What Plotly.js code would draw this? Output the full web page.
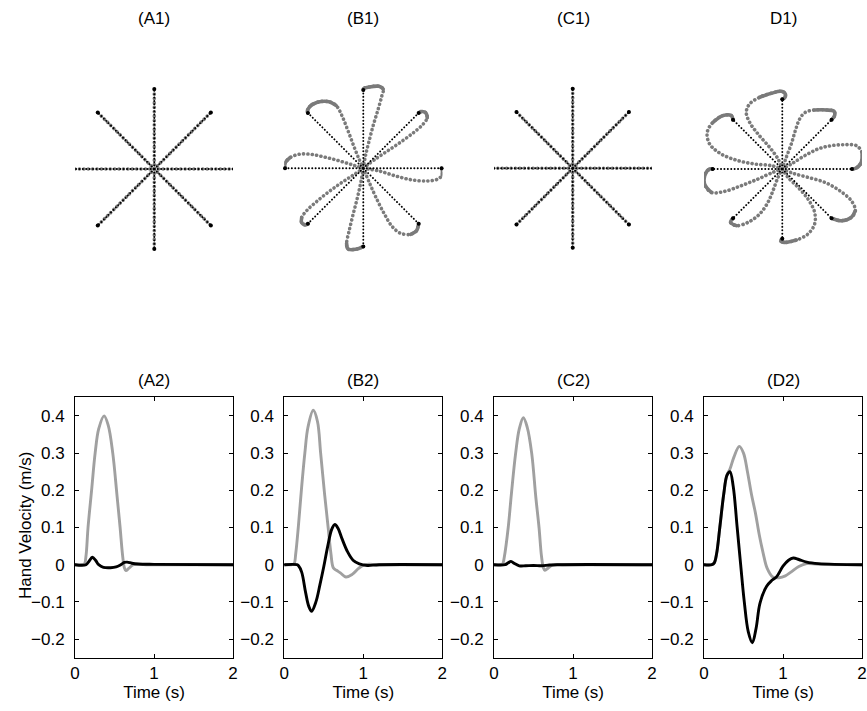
<!DOCTYPE html>
<html>
<head>
<meta charset="utf-8">
<script src="https://cdn.plot.ly/plotly-3.0.1.min.js"></script>
<style>
  html, body { margin: 0; padding: 0; background: #fff; }
  #chart { width: 867px; height: 711px; }
  /* round caps turn the zero-length dashes into dots */
  .js-line { stroke-linecap: round; stroke-linejoin: round; }
</style>
</head>
<body>
<div id="chart"></div>
<script>
// ---------- Reach targets (cm): N, NE, E, SE, S, SW, W, NW ----------
const targetX = [0, 7.07, 10, 7.07, 0, -7.07, -10, -7.07];
const targetY = [10, 7.07, 0, -7.07, -10, -7.07, 0, 7.07];

// ---------- Hand paths (cm), one list per target ----------
// (A1) null field: straight reaches
const pathAX = [[0, 0], [0, 7.07], [0, 10], [0, 7.07], [0, 0], [0, -7.07], [0, -10], [0, -7.07]];
const pathAY = [[0, 10], [0, 7.07], [0, 0], [0, -7.07], [0, -10], [0, -7.07], [0, 0], [0, 7.07]];

// (B1) curl field, first exposure
const pathBX = [
  [0, 0.30, 0.72, 1.28, 1.87, 2.34, 2.55, 2.00, 0.72, 0.05, 0],
  [0, 1.57, 3.28, 4.98, 6.47, 7.62, 8.17, 7.96, 7.32, 7.07],
  [0, 2.00, 4.13, 6.26, 8.17, 9.45, 10.09, 10.09, 10],
  [0, 0.72, 1.57, 2.64, 3.70, 4.77, 6.04, 6.81, 7.02, 7.07],
  [0, -0.30, -0.77, -1.32, -1.83, -2.13, -1.96, -0.98, 0],
  [0, -1.40, -2.89, -4.38, -5.87, -7.15, -7.87, -7.87, -7.36, -7.07],
  [0, -1.62, -3.32, -5.02, -6.72, -8.21, -9.36, -10, -10],
  [0, -0.55, -1.19, -1.91, -2.68, -3.45, -4.38, -5.87, -6.85, -7.15, -7.07]
];
const pathBY = [
  [0, 1.70, 3.40, 5.53, 7.45, 9.15, 10.13, 10.47, 10.38, 10.2, 10],
  [0, 1.19, 2.34, 3.49, 4.60, 5.62, 6.47, 7.11, 7.23, 7.07],
  [0, -0.34, -0.98, -1.49, -1.62, -1.40, -0.85, -0.21, 0],
  [0, -1.70, -3.62, -5.74, -7.45, -8.30, -8.43, -7.96, -7.32, -7.07],
  [0, -1.70, -3.83, -5.96, -8.09, -9.57, -10.30, -10.34, -10],
  [0, -0.94, -1.91, -2.98, -4.17, -5.32, -6.30, -6.94, -7.23, -7.07],
  [0, 0.51, 1.02, 1.45, 1.79, 1.79, 1.36, 0.64, 0],
  [0, 1.19, 2.77, 4.68, 6.60, 8.00, 8.51, 8.43, 7.87, 7.23, 7.07]
];
const hookB = [6, 6, 6, 6, 5, 6, 6, 5];

// (C1) null field again: straight reaches
const pathCX = pathAX;
const pathCY = pathAY;

// (D1) curl field, after-effect
const pathDX = [
  [0, -0.62, -1.82, -3.49, -4.69, -5.17, -4.69, -3.25, -1.58, -0.14, 0.43, 0.33, 0],
  [0, 0.57, 1.29, 1.87, 2.49, 3.30, 4.64, 6.32, 7.42, 7.51, 7.07],
  [0, 1.29, 3.21, 5.12, 7.03, 8.95, 10.62, 11.44, 11.34, 10.62, 10],
  [0, 1.53, 3.68, 6.08, 8.23, 9.90, 10.48, 9.90, 8.47, 7.07],
  [0, 0.81, 2.25, 3.68, 4.64, 4.64, 3.68, 2.01, 0.33, -0.24, 0],
  [0, -0.62, -1.34, -2.06, -3.25, -4.93, -6.60, -7.42, -7.07],
  [0, -1.34, -3.49, -5.89, -8.28, -10.19, -11.15, -11.05, -10.43, -10],
  [0, -1.58, -3.97, -6.36, -8.76, -10.43, -10.77, -9.95, -8.52, -7.32, -7.07]
];
const pathDY = [
  [0, 1.44, 3.11, 5.02, 6.70, 8.13, 9.33, 10.29, 10.86, 11.15, 10.77, 10.19, 10],
  [0, 1.67, 3.59, 5.50, 7.18, 8.13, 8.47, 8.47, 8.28, 7.66, 7.07],
  [0, 0.72, 1.91, 2.87, 3.35, 3.49, 3.35, 2.39, 0.96, 0.14, 0],
  [0, -0.62, -1.20, -1.91, -3.11, -4.55, -5.98, -6.94, -7.42, -7.07],
  [0, -1.20, -2.63, -4.31, -6.22, -7.89, -9.33, -10.19, -10.53, -10.29, -10],
  [0, -1.20, -3.11, -4.78, -6.46, -7.66, -8.13, -7.66, -7.07],
  [0, -0.48, -1.44, -2.39, -3.21, -3.35, -2.15, -0.72, 0, 0],
  [0, 0.48, 0.72, 1.20, 2.15, 3.59, 5.26, 6.70, 7.66, 7.66, 7.07]
];
const hookD = [7, 6, 7, 6, 7, 6, 5, 7];

// ---------- Hand velocity (m/s) against time (s) ----------
const tGrayA = [0, 0.1, 0.12, 0.14, 0.165, 0.21, 0.255, 0.3, 0.368, 0.42, 0.478, 0.53, 0.571, 0.6, 0.625, 0.645, 0.68, 0.74, 0.9, 2];
const vGrayA = [0, 0, 0.002, 0.025, 0.10, 0.20, 0.30, 0.365, 0.40, 0.375, 0.30, 0.19, 0.10, 0.03, -0.008, -0.016, -0.01, 0, 0, 0];
const tBlackA = [0, 0.14, 0.18, 0.22, 0.26, 0.3, 0.36, 0.45, 0.52, 0.58, 0.625, 0.66, 0.72, 0.8, 1.0, 2];
const vBlackA = [0, 0, 0.01, 0.02, 0.012, 0, -0.007, -0.008, -0.006, 0, 0.006, 0.007, 0.004, 0.002, 0.001, 0];

const tGrayB = [0, 0.1, 0.125, 0.145, 0.177, 0.22, 0.26, 0.3, 0.367, 0.42, 0.46, 0.51, 0.555, 0.59, 0.62, 0.66, 0.71, 0.78, 0.86, 0.94, 1.02, 1.2, 2];
const vGrayB = [0, 0, 0.003, 0.03, 0.1, 0.21, 0.3, 0.37, 0.415, 0.385, 0.3, 0.19, 0.1, 0.03, -0.008, -0.015, -0.022, -0.033, -0.026, -0.01, 0, 0, 0];
const tBlackB = [0, 0.16, 0.18, 0.22, 0.27, 0.31, 0.346, 0.4, 0.45, 0.5, 0.55, 0.6, 0.64, 0.68, 0.73, 0.8, 0.87, 0.95, 1.05, 1.2, 2];
const vBlackB = [0, 0, -0.003, -0.02, -0.075, -0.112, -0.125, -0.1, -0.055, -0.005, 0.05, 0.095, 0.108, 0.098, 0.07, 0.035, 0.012, 0.002, -0.002, 0, 0];

const tGrayC = [0, 0.09, 0.11, 0.13, 0.18, 0.22, 0.274, 0.32, 0.371, 0.42, 0.477, 0.53, 0.57, 0.6, 0.625, 0.645, 0.69, 0.75, 0.9, 2];
const vGrayC = [0, 0, 0.002, 0.02, 0.1, 0.19, 0.3, 0.365, 0.395, 0.37, 0.3, 0.18, 0.1, 0.025, -0.008, -0.015, -0.008, 0, 0, 0];
const tBlackC = [0, 0.14, 0.18, 0.215, 0.26, 0.32, 0.4, 0.5, 0.6, 0.7, 0.8, 2];
const vBlackC = [0, 0, 0.005, 0.009, 0.003, -0.003, -0.003, -0.002, -0.003, -0.001, 0, 0];

const tGrayD = [0, 0.1, 0.13, 0.16, 0.2, 0.25, 0.29, 0.33, 0.38, 0.447, 0.5, 0.55, 0.6, 0.65, 0.7, 0.75, 0.8, 0.87, 0.95, 1.03, 1.1, 1.2, 1.3, 1.45, 2];
const vGrayD = [0, 0, 0.005, 0.03, 0.1, 0.19, 0.24, 0.258, 0.29, 0.318, 0.3, 0.25, 0.19, 0.14, 0.08, 0.03, -0.01, -0.033, -0.035, -0.03, -0.02, -0.005, 0.003, 0.001, 0];
const tBlackD = [0, 0.1, 0.13, 0.16, 0.2, 0.25, 0.29, 0.329, 0.37, 0.42, 0.464, 0.51, 0.56, 0.612, 0.66, 0.709, 0.793, 0.86, 0.92, 1.0, 1.07, 1.13, 1.2, 1.3, 1.45, 2];
const vBlackD = [0, 0, 0.005, 0.03, 0.1, 0.19, 0.24, 0.25, 0.21, 0.1, 0.0, -0.1, -0.18, -0.21, -0.17, -0.103, -0.058, -0.042, -0.032, -0.004, 0.012, 0.018, 0.014, 0.007, 0.003, 0];

// ---------- Panel labels ----------
const topTitles = ['(A1)', '(B1)', '(C1)', 'D1)'];
const bottomTitles = ['(A2)', '(B2)', '(C2)', '(D2)'];
const velTicks = [-0.2, -0.1, 0, 0.1, 0.2, 0.3, 0.4];
const timeTicks = [0, 1, 2];

// ---------- Geometry (pixels) ----------
const W = 867, H = 711;
const colLeft = [75, 284.3, 494, 704];
const colWidth = 158;
const topPx = [40, 298];          // top-row plot area, top / bottom
const botPx = [397.3, 657.7];     // bottom-row plot area, top / bottom
const starCx = [154.3, 363.3, 572.7, 782.3];
const starCy = [169, 168.3, 168.3, 169];
const pxPerCm = [8.0, 7.83, 7.95, 6.97];

const FONT = '"Liberation Sans", Arial, Helvetica, sans-serif';
const FS = 17;
const GRAY_DOT = 'rgb(122,122,122)';
const GRAY_LINE = 'rgb(160,160,160)';

function joinPaths(listX, listY, startIdx) {
  const x = [], y = [];
  listX.forEach((px, k) => {
    const s = startIdx ? startIdx[k] : 0;
    x.push(...px.slice(s), null);
    y.push(...listY[k].slice(s), null);
  });
  return { x, y };
}

function starLines() {
  const x = [], y = [];
  targetX.forEach((tx, k) => { x.push(0, tx, null); y.push(0, targetY[k], null); });
  return { x, y };
}

const traces = [];
const panels = [
  { px: pathAX, py: pathAY, hook: null },
  { px: pathBX, py: pathBY, hook: hookB },
  { px: pathCX, py: pathCY, hook: null },
  { px: pathDX, py: pathDY, hook: hookD }
];

panels.forEach((p, i) => {
  const xa = 'x' + (i === 0 ? '' : i + 1);
  const ya = 'y' + (i === 0 ? '' : i + 1);
  const g = joinPaths(p.px, p.py, null);
  traces.push({
    type: 'scatter', mode: 'lines', x: g.x, y: g.y, xaxis: xa, yaxis: ya,
    line: { color: GRAY_DOT, width: 3.6, dash: '0.1px,4.3px', shape: 'spline', smoothing: 1 },
    cliponaxis: false, hoverinfo: 'skip'
  });
  if (p.hook) {
    const h = joinPaths(p.px, p.py, p.hook);
    traces.push({
      type: 'scatter', mode: 'lines', x: h.x, y: h.y, xaxis: xa, yaxis: ya,
      line: { color: GRAY_DOT, width: 3.6, shape: 'spline', smoothing: 1 },
      cliponaxis: false, hoverinfo: 'skip'
    });
  }
  const s = starLines();
  traces.push({
    type: 'scatter', mode: 'lines', x: s.x, y: s.y, xaxis: xa, yaxis: ya,
    line: { color: '#000', width: 1.9, dash: '0.1px,3.3px' },
    cliponaxis: false, hoverinfo: 'skip'
  });
  traces.push({
    type: 'scatter', mode: 'markers', x: targetX, y: targetY, xaxis: xa, yaxis: ya,
    marker: { color: '#000', size: 4, symbol: 'circle' },
    cliponaxis: false, hoverinfo: 'skip'
  });
});

const velSets = [
  [tGrayA, vGrayA, tBlackA, vBlackA],
  [tGrayB, vGrayB, tBlackB, vBlackB],
  [tGrayC, vGrayC, tBlackC, vBlackC],
  [tGrayD, vGrayD, tBlackD, vBlackD]
];
velSets.forEach((v, i) => {
  const xa = 'x' + (i + 5), ya = 'y' + (i + 5);
  traces.push({
    type: 'scatter', mode: 'lines', x: v[0], y: v[1], xaxis: xa, yaxis: ya,
    line: { color: GRAY_LINE, width: 2.9, shape: 'spline', smoothing: 1 }, hoverinfo: 'skip'
  });
  traces.push({
    type: 'scatter', mode: 'lines', x: v[2], y: v[3], xaxis: xa, yaxis: ya,
    line: { color: '#000', width: 2.9, shape: 'spline', smoothing: 1 }, hoverinfo: 'skip'
  });
});

const layout = {
  width: W, height: H,
  margin: { l: 0, r: 0, t: 0, b: 0 },
  paper_bgcolor: '#fff', plot_bgcolor: 'rgba(0,0,0,0)',
  showlegend: false,
  font: { family: FONT, size: FS, color: '#000' },
  annotations: []
};

for (let i = 0; i < 4; i++) {
  const dom = [colLeft[i] / W, (colLeft[i] + colWidth) / W];
  const sfx = i === 0 ? '' : String(i + 1);
  const s = pxPerCm[i];
  layout['xaxis' + sfx] = {
    domain: dom, anchor: 'y' + sfx, visible: false, fixedrange: true,
    range: [(colLeft[i] - starCx[i]) / s, (colLeft[i] + colWidth - starCx[i]) / s]
  };
  layout['yaxis' + sfx] = {
    domain: [1 - topPx[1] / H, 1 - topPx[0] / H], anchor: 'x' + sfx, visible: false, fixedrange: true,
    range: [(starCy[i] - topPx[1]) / s, (starCy[i] - topPx[0]) / s]
  };

  const k = i + 5;
  layout['xaxis' + k] = {
    domain: dom, anchor: 'y' + k, range: [0, 2], tickvals: timeTicks,
    ticks: 'inside', ticklen: 4, tickwidth: 1, tickcolor: '#000',
    showline: true, linecolor: '#000', linewidth: 1, mirror: 'ticks',
    showgrid: false, zeroline: false, fixedrange: true, ticklabelstandoff: 0,
    tickfont: { family: FONT, size: FS, color: '#000' },
    title: { text: 'Time (s)', font: { family: FONT, size: FS, color: '#000' }, standoff: 1 }
  };
  layout['yaxis' + k] = {
    domain: [1 - botPx[1] / H, 1 - botPx[0] / H], anchor: 'x' + k, range: [-0.25, 0.45],
    tickvals: velTicks, ticks: 'inside', ticklen: 4, tickwidth: 1, tickcolor: '#000',
    showline: true, linecolor: '#000', linewidth: 1, mirror: 'ticks',
    showgrid: false, zeroline: false, fixedrange: true, ticklabelstandoff: 6,
    tickfont: { family: FONT, size: FS, color: '#000' }
  };

  const cx = (colLeft[i] + colWidth / 2) / W;
  layout.annotations.push({
    text: topTitles[i], xref: 'paper', yref: 'paper', x: cx, y: 1 - 18 / H,
    xanchor: 'center', yanchor: 'middle', showarrow: false,
    font: { family: FONT, size: FS, color: '#000' }
  });
  layout.annotations.push({
    text: bottomTitles[i], xref: 'paper', yref: 'paper', x: cx, y: 1 - 380.5 / H,
    xanchor: 'center', yanchor: 'middle', showarrow: false,
    font: { family: FONT, size: FS, color: '#000' }
  });
}

// y-axis label of the first velocity panel
layout.annotations.push({
  text: 'Hand Velocity (m/s)', xref: 'paper', yref: 'paper', x: 25 / W, y: 1 - 526 / H,
  xanchor: 'center', yanchor: 'middle', textangle: -90, showarrow: false,
  font: { family: FONT, size: FS, color: '#000' }
});

Plotly.newPlot('chart', traces, layout, { displayModeBar: false, staticPlot: true });
</script>
</body>
</html>
